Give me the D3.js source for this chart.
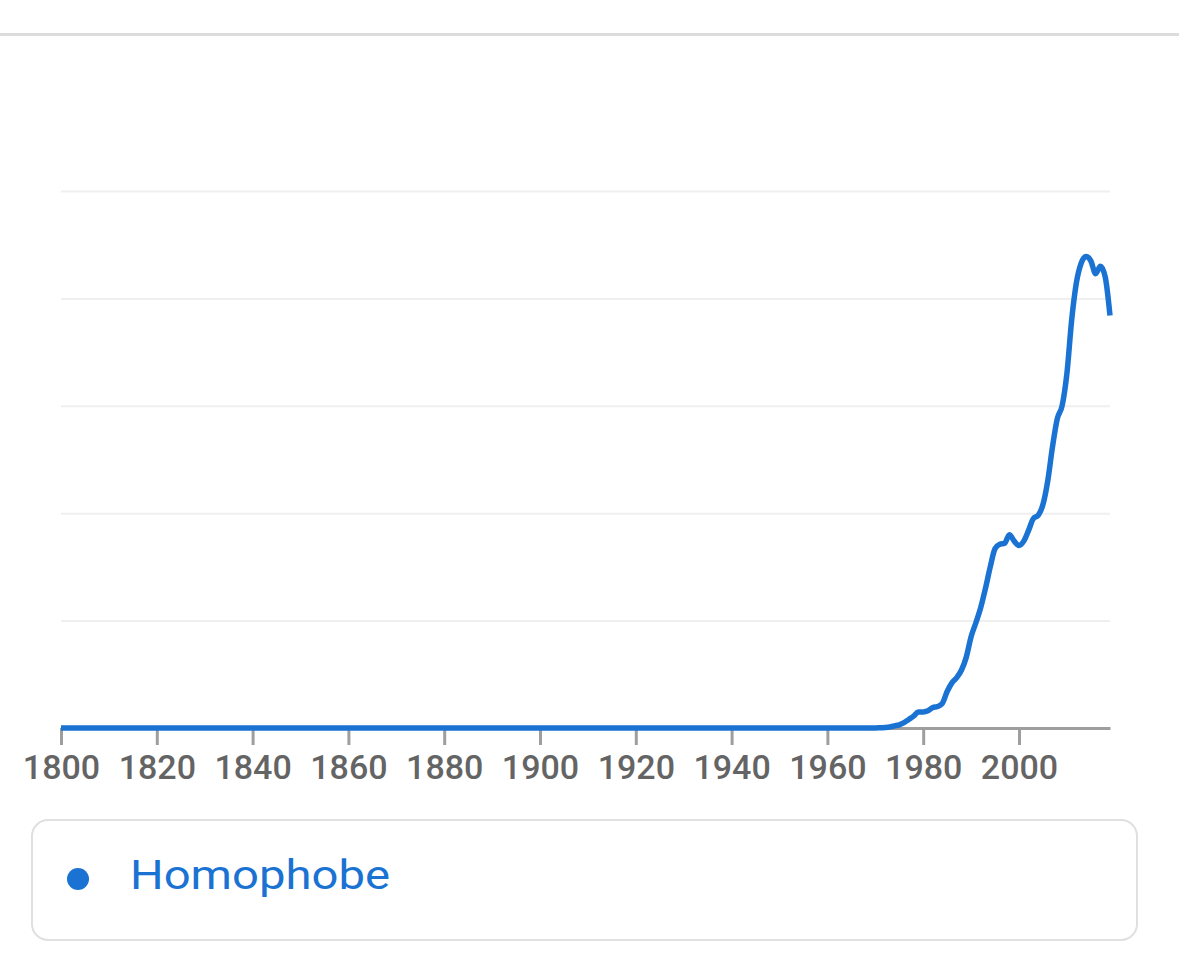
<!DOCTYPE html>
<html>
<head>
<meta charset="utf-8">
<script src="https://cdn.jsdelivr.net/npm/d3@7"></script>
<style>
  body { margin: 0; background: #fff; font-family: Roboto, "Noto Sans", sans-serif; }
  svg { display: block; }
</style>
</head>
<body>
<div id="chart"></div>
<script>
// ngram frequency, in gridline units (5 gridlines, no y labels shown)
var years = [1800, 1969, 1970, 1971, 1972, 1973, 1974, 1975, 1976, 1977, 1978, 1979,
  1980, 1981, 1982, 1983, 1984, 1985, 1986, 1987, 1988, 1989,
  1990, 1991, 1992, 1993, 1994, 1995, 1996, 1997, 1998, 1999,
  2000, 2001, 2002, 2003, 2004, 2005, 2006, 2007, 2008, 2009,
  2010, 2011, 2012, 2013, 2014, 2015, 2016, 2017, 2018, 2019];
var homophobe = [0, 0, 0, 0.002, 0.005, 0.01, 0.02, 0.03, 0.05, 0.08, 0.11, 0.15,
  0.15, 0.16, 0.19, 0.2, 0.23, 0.34, 0.42, 0.47, 0.54, 0.66,
  0.85, 0.98, 1.12, 1.3, 1.5, 1.67, 1.71, 1.72, 1.8, 1.74,
  1.7, 1.74, 1.84, 1.95, 1.98, 2.08, 2.3, 2.62, 2.88, 3.0,
  3.3, 3.8, 4.15, 4.33, 4.39, 4.35, 4.23, 4.3, 4.2, 3.84];
var xTicks = [1800, 1820, 1840, 1860, 1880, 1900, 1920, 1940, 1960, 1980, 2000];
var seriesName = "Homophobe";

var svgWidth = 1179, svgHeight = 975;
var margin = {top: 191, left: 61, right: 69, bottom: 247};
var width = svgWidth - margin.left - margin.right;
var height = svgHeight - margin.top - margin.bottom;
var blue = "#1a73d2";

var svg = d3.select("#chart").append("svg")
  .attr("width", svgWidth)
  .attr("height", svgHeight);

// top divider
svg.append("rect")
  .attr("x", 0).attr("y", 33)
  .attr("width", svgWidth).attr("height", 3)
  .attr("fill", "#dcdcdc");

var chartGroup = svg.append("g")
  .attr("transform", `translate(${margin.left}, ${margin.top})`);

var x = d3.scaleLinear().domain([1800, 2019]).range([0, width]);
var y = d3.scaleLinear().domain([0, 5]).range([height, 0]);

// gridlines
chartGroup.append("g")
  .call(d3.axisLeft(y).ticks(5).tickSize(-width).tickFormat(""))
  .call(g => g.select(".domain").remove())
  .call(g => g.selectAll(".tick line")
    .attr("stroke", "#efefef")
    .attr("stroke-width", 2))
  .call(g => g.selectAll(".tick").filter(d => d === 0).remove());

// x axis
var xAxis = chartGroup.append("g")
  .attr("transform", `translate(0, ${height})`)
  .call(d3.axisBottom(x).tickValues(xTicks).tickFormat(d3.format("d")).tickSize(17).tickSizeOuter(0).tickPadding(10));

xAxis.select(".domain")
  .attr("stroke", "#9e9e9e")
  .attr("stroke-width", 3);
xAxis.selectAll(".tick line")
  .attr("stroke", "#9e9e9e")
  .attr("stroke-width", 3);
xAxis.selectAll(".tick text")
  .attr("fill", "#646464")
  .attr("font-size", 34)
  .attr("font-weight", 500)
  .attr("font-family", "Roboto, sans-serif");

// series line
var line = d3.line()
  .x((d, i) => x(years[i]))
  .y(d => y(d))
  .curve(d3.curveMonotoneX);

chartGroup.append("path")
  .datum(homophobe)
  .attr("fill", "none")
  .attr("stroke", blue)
  .attr("stroke-width", 5.5)
  .attr("stroke-linejoin", "round")
  .attr("d", line);

// legend
var legend = svg.append("g");
legend.append("rect")
  .attr("x", 32).attr("y", 820)
  .attr("width", 1105).attr("height", 120)
  .attr("rx", 16)
  .attr("fill", "#fff")
  .attr("stroke", "#e0e0e0")
  .attr("stroke-width", 2);
legend.append("circle")
  .attr("cx", 78).attr("cy", 879)
  .attr("r", 11)
  .attr("fill", blue);
legend.append("text")
  .attr("x", 130).attr("y", 889)
  .attr("fill", blue)
  .attr("font-size", 40)
  .attr("font-family", "Roboto, sans-serif")
  .attr("textLength", 260)
  .attr("lengthAdjust", "spacingAndGlyphs")
  .text(seriesName);
</script>
</body>
</html>
